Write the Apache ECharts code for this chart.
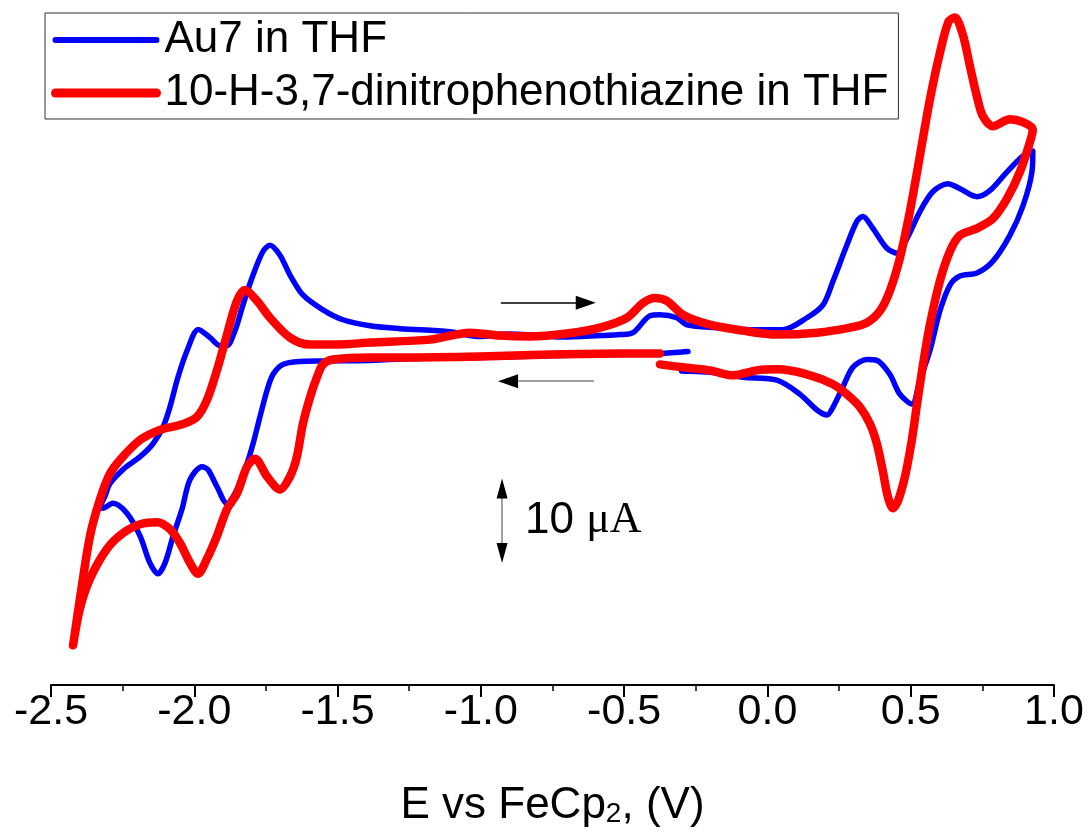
<!DOCTYPE html>
<html><head><meta charset="utf-8">
<script src="https://cdn.jsdelivr.net/npm/echarts@6/dist/echarts.min.js"></script>
<style>html,body{margin:0;padding:0;background:#fff}#c{width:1088px;height:833px}</style>
</head><body><div id="c"></div>
<script>
// Potential (V vs FeCp2) and current (µA) pairs, in scan order
const au7 = [[-0.277,-0.18],[-0.375,-0.41],[-0.515,-0.53],[-0.724,-0.65],[-1.003,-0.89],[-1.200,-1.0],[-1.387,-1.24],[-1.551,-1.30],[-1.631,-1.36],[-1.691,-1.72],[-1.725,-2.90],[-1.746,-4.80],[-1.771,-8.00],[-1.795,-11.20],[-1.816,-13.57],[-1.851,-16.65],[-1.875,-18.07],[-1.886,-18.31],[-1.921,-16.30],[-1.952,-14.30],[-1.973,-13.93],[-2.015,-15.47],[-2.043,-19.02],[-2.074,-22.22],[-2.102,-25.42],[-2.127,-26.73],[-2.155,-25.42],[-2.189,-22.22],[-2.235,-19.50],[-2.284,-18.31],[-2.319,-18.90],[-2.325,-18.60],[-2.312,-17.48],[-2.294,-15.94],[-2.249,-14.28],[-2.189,-12.74],[-2.144,-11.20],[-2.109,-9.19],[-2.085,-6.81],[-2.057,-3.26],[-2.025,-0.06],[-1.986,2.45],[-1.945,1.48],[-1.910,0.53],[-1.886,0.53],[-1.858,2.31],[-1.830,5.39],[-1.795,8.95],[-1.760,11.79],[-1.736,12.50],[-1.701,11.32],[-1.666,8.95],[-1.621,6.58],[-1.551,4.80],[-1.481,3.61],[-1.387,2.90],[-1.282,2.55],[-1.108,2.19],[-1.003,1.60],[-0.909,1.90],[-0.714,1.55],[-0.584,1.72],[-0.515,1.84],[-0.469,2.07],[-0.410,4.09],[-0.375,4.21],[-0.316,3.85],[-0.281,3.02],[-0.176,2.67],[-0.061,2.43],[0.054,2.43],[0.138,3.85],[0.194,5.39],[0.229,8.24],[0.277,12.50],[0.312,15.35],[0.333,15.94],[0.368,14.52],[0.417,12.15],[0.452,11.56],[0.487,13.33],[0.532,16.53],[0.577,18.90],[0.630,19.85],[0.672,19.26],[0.731,18.31],[0.776,19.02],[0.836,21.27],[0.892,23.17],[0.926,23.76],[0.923,21.27],[0.892,17.24],[0.846,13.69],[0.787,10.61],[0.731,9.19],[0.672,8.83],[0.637,7.76],[0.602,4.68],[0.567,-0.06],[0.532,-3.61],[0.504,-6.46],[0.462,-5.27],[0.427,-2.90],[0.382,-1.24],[0.347,-1.13],[0.298,-2.07],[0.263,-4.44],[0.229,-6.81],[0.208,-7.76],[0.173,-7.17],[0.113,-5.27],[0.033,-3.61],[-0.086,-3.26],[-0.201,-2.67],[-0.270,-2.55],[-0.300,-2.50]];
const dnp = [[-0.375,-0.41],[-0.515,-0.41],[-0.759,-0.53],[-1.003,-0.77],[-1.282,-0.89],[-1.387,-0.89],[-1.516,-1.13],[-1.551,-1.72],[-1.572,-3.26],[-1.596,-5.63],[-1.621,-8.83],[-1.642,-12.74],[-1.666,-15.11],[-1.701,-16.65],[-1.746,-15.11],[-1.788,-12.98],[-1.816,-13.93],[-1.851,-17.13],[-1.886,-19.02],[-1.921,-22.22],[-1.956,-24.95],[-1.987,-26.73],[-2.015,-25.42],[-2.050,-23.05],[-2.085,-21.39],[-2.130,-20.56],[-2.189,-20.80],[-2.249,-21.87],[-2.305,-23.76],[-2.364,-27.32],[-2.399,-30.87],[-2.423,-35.26],[-2.399,-29.69],[-2.364,-22.22],[-2.329,-17.84],[-2.294,-14.76],[-2.249,-12.74],[-2.189,-10.73],[-2.120,-9.54],[-2.039,-8.83],[-1.991,-8.00],[-1.956,-5.99],[-1.921,-2.43],[-1.886,1.84],[-1.851,5.87],[-1.823,7.17],[-1.781,5.87],[-1.736,3.85],[-1.666,1.48],[-1.596,0.65],[-1.502,0.65],[-1.387,0.89],[-1.178,1.24],[-1.038,2.07],[-0.933,1.72],[-0.829,1.60],[-0.700,1.96],[-0.584,2.67],[-0.490,3.85],[-0.434,5.63],[-0.393,6.22],[-0.351,5.87],[-0.295,4.21],[-0.201,3.02],[-0.086,2.31],[0.033,1.84],[0.173,2.07],[0.288,2.67],[0.347,3.26],[0.393,4.68],[0.427,7.05],[0.462,10.96],[0.497,16.53],[0.532,23.17],[0.567,29.93],[0.602,35.50],[0.632,39.20],[0.654,39.70],[0.682,37.63],[0.707,33.84],[0.731,30.28],[0.752,27.91],[0.787,26.73],[0.846,27.56],[0.892,27.20],[0.926,26.37],[0.916,24.83],[0.881,21.27],[0.836,18.07],[0.787,15.70],[0.731,14.52],[0.672,13.69],[0.637,11.79],[0.602,8.24],[0.567,3.02],[0.543,-1.72],[0.522,-6.46],[0.504,-10.73],[0.480,-15.11],[0.455,-18.07],[0.438,-18.90],[0.420,-17.48],[0.403,-14.52],[0.382,-11.20],[0.358,-8.83],[0.323,-6.81],[0.277,-5.27],[0.229,-4.09],[0.138,-2.90],[0.033,-2.31],[-0.037,-2.43],[-0.120,-3.02],[-0.201,-2.43],[-0.295,-2.07],[-0.375,-1.72]];
const seriesNames = ['Au7 in THF', '10-H-3,7-dinitrophenothiazine in THF'];
const xRange = [-2.5, 1.0];
const yRange = [-40, 40];
// Annotations (data coordinates)
const scaleBar = {x: -0.926, yTop: -15.35, yBottom: -25.42};
const scaleLabel = ['10 ', 'μA'];
const scanArrows = [{from: [-0.930, 5.63], to: [-0.599, 5.63], shaft: '#000'}, {from: [-0.605, -3.73], to: [-0.940, -3.73], shaft: '#808080'}];

const chart = echarts.init(document.getElementById('c'), null, {renderer: 'canvas'});
const FONT = 'Liberation Sans';

// arrow: shaft line + black head whose tip sits on "to"
function arrow(from, to, shaft, headLen, headW) {
  const dx = to[0] - from[0], dy = to[1] - from[1];
  const len = Math.hypot(dx, dy);
  const ux = dx / len, uy = dy / len;
  const pxPer = Math.abs(ux) > 0.5 ? 286.6 : 8.4375;
  const h = headLen / 2 / pxPer;
  const c = [to[0] - ux * h, to[1] - uy * h];
  const c2 = [c[0] - ux * h * 0.01, c[1] - uy * h * 0.01];
  return [
    [{coord: from, symbol: 'none', lineStyle: {color: shaft}}, {coord: c, symbol: 'none'}],
    [{coord: c2, symbol: 'none', lineStyle: {color: '#000'}}, {coord: c, symbol: 'triangle', symbolSize: [headW, headLen]}]
  ];
}
const midBar = (scaleBar.yTop + scaleBar.yBottom) / 2;
const annotationLines = [].concat(
  arrow(scanArrows[0].from, scanArrows[0].to, scanArrows[0].shaft, 20, 14),
  arrow(scanArrows[1].from, scanArrows[1].to, scanArrows[1].shaft, 20, 14),
  arrow([scaleBar.x, midBar], [scaleBar.x, scaleBar.yTop], '#808080', 20, 11),
  arrow([scaleBar.x, midBar], [scaleBar.x, scaleBar.yBottom], '#808080', 20, 11)
);

chart.setOption({
  animation: false,
  backgroundColor: '#fff',
  grid: {left: 51, right: 34, top: 15, bottom: 143, containLabel: false},
  legend: {
    orient: 'vertical', left: 45, top: 13,
    padding: [2, 10, 1, 6], itemGap: 3,
    itemWidth: 101, itemHeight: 5,
    borderColor: '#333', borderWidth: 1,
    itemStyle: {opacity: 0},
    textStyle: {fontFamily: FONT, fontSize: 44, color: '#000', lineHeight: 50, padding: [0, 0, 0, 3]},
    data: [
      {name: seriesNames[0], lineStyle: {width: 6, cap: 'round', color: '#0000ff'}},
      {name: seriesNames[1], lineStyle: {width: 9, cap: 'round', color: '#ff0000'}}
    ]
  },
  xAxis: {
    type: 'value', min: xRange[0], max: xRange[1], interval: 0.5,
    axisLine: {onZero: false, lineStyle: {color: '#000', width: 2}},
    axisTick: {inside: false, length: 12, lineStyle: {color: '#000', width: 2}},
    minorTick: {show: true, splitNumber: 2, length: 6, lineStyle: {color: '#000', width: 1.5}},
    splitLine: {show: false},
    axisLabel: {fontFamily: FONT, fontSize: 43, color: '#000', margin: 6, formatter: v => v.toFixed(1)},
    name: 'E vs FeCp{s|2}, (V)', nameLocation: 'middle', nameGap: 99,
    nameTextStyle: {fontFamily: FONT, fontSize: 44, color: '#000',
      rich: {s: {fontFamily: FONT, fontSize: 28, color: '#000', verticalAlign: 'bottom', padding: [16, 0, 0, 0]}}}
  },
  yAxis: {type: 'value', min: yRange[0], max: yRange[1], show: false},
  series: [
    {name: seriesNames[0], type: 'line', data: au7, showSymbol: false, symbol: 'none', smooth: 0.3, clip: false, z: 3,
     lineStyle: {color: '#0000ff', width: 5.5, cap: 'round', join: 'round'}, itemStyle: {color: '#0000ff'}},
    {name: seriesNames[1], type: 'line', data: dnp, showSymbol: false, symbol: 'none', smooth: 0.3, clip: false, z: 4,
     lineStyle: {color: '#ff0000', width: 8.5, cap: 'round', join: 'round'}, itemStyle: {color: '#ff0000'}},
    {name: 'annotations', type: 'line', data: [], silent: true, z: 5,
     markLine: {silent: true, animation: false, symbol: 'none', label: {show: false},
       lineStyle: {type: 'solid', width: 1.5, color: '#000'}, emphasis: {disabled: true},
       data: annotationLines},
     markPoint: {silent: true, symbol: 'circle', symbolSize: 0,
       data: [{coord: [scaleBar.x + 0.08, midBar]}],
       label: {show: true, position: 'right', distance: 0, formatter: '{a|' + scaleLabel[0] + '}{b|' + scaleLabel[1] + '}',
         rich: {a: {fontFamily: FONT, fontSize: 44, color: '#000'}, b: {fontFamily: "'Liberation Serif'", fontSize: 44, color: '#000'}}}}
    }
  ]
});
</script></body></html>
